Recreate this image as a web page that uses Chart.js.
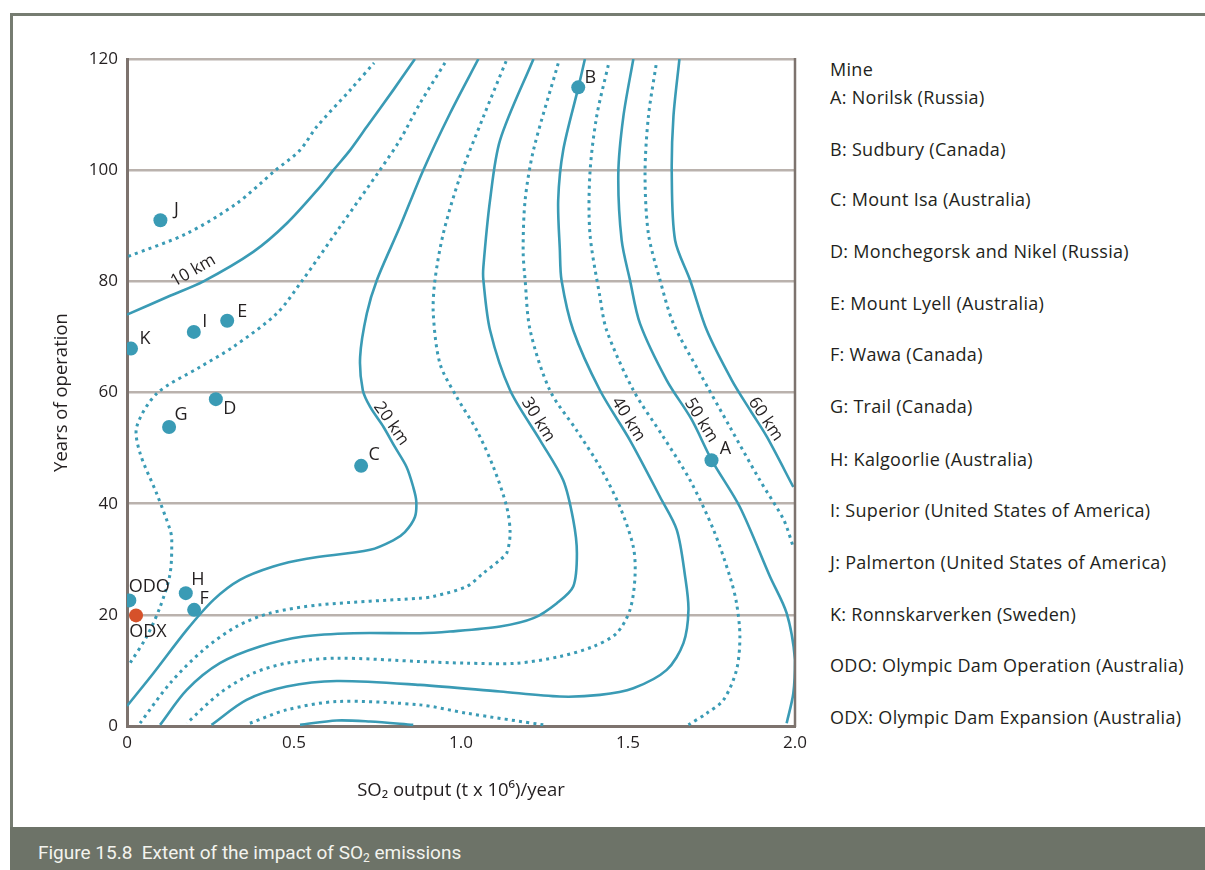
<!DOCTYPE html>
<html><head><meta charset="utf-8">
<script src="https://cdn.jsdelivr.net/npm/chart.js@4.4.1/dist/chart.umd.min.js"></script>
<style>
html,body{margin:0;padding:0;background:#fff;width:1205px;height:870px;overflow:hidden;font-family:"Open Sans","Noto Sans",sans-serif;color:#231f20;}
#frame{position:absolute;left:10px;top:13px;width:1200px;height:815px;border-left:3px solid #767c71;border-top:3px solid #767c71;box-sizing:border-box;}
#footer{position:absolute;left:10px;top:827px;width:1200px;height:43px;background:#6d7368;}
#caption{position:absolute;left:28px;top:15px;color:#f3f3ee;font-family:"Liberation Sans Narrow","Roboto","Open Sans",sans-serif;font-size:19px;white-space:nowrap;line-height:22px;}
#caption sub{font-size:12px;vertical-align:-3px;line-height:0;}
#wrap{position:absolute;left:14px;top:17px;width:800px;height:810px;}
.lg{position:absolute;left:830px;font-size:18px;letter-spacing:0.3px;line-height:20px;white-space:nowrap;}
</style></head>
<body>
<div id="frame"></div>
<div id="wrap"><canvas id="c"></canvas></div>
<div id="legend"></div>
<div id="footer"><div id="caption">Figure 15.8&nbsp; Extent of the impact of SO<sub>2</sub> emissions</div></div>
<script>
// ---- data ----
const xTicks = [0, 0.5, 1.0, 1.5, 2.0];
const yTicks = [0, 20, 40, 60, 80, 100, 120];

const mineLabels = ['A','B','C','D','E','F','G','H','I','J','K','ODO'];
const mineX = [1.75, 1.351, 0.701, 0.266, 0.300, 0.201, 0.126, 0.176, 0.200, 0.100, 0.012, 0.007];
const mineY = [47.8, 114.9, 46.8, 58.8, 72.9, 20.9, 53.8, 23.9, 70.9, 91.0, 67.9, 22.6];
const odxLabel = ['ODX'];
const odxX = [0.027];
const odxY = [19.9];

const legendTitle = 'Mine';
const legendItems = [
 'A: Norilsk (Russia)','B: Sudbury (Canada)','C: Mount Isa (Australia)',
 'D: Monchegorsk and Nikel (Russia)','E: Mount Lyell (Australia)','F: Wawa (Canada)',
 'G: Trail (Canada)','H: Kalgoorlie (Australia)','I: Superior (United States of America)',
 'J: Palmerton (United States of America)','K: Ronnskarverken (Sweden)',
 'ODO: Olympic Dam Operation (Australia)','ODX: Olympic Dam Expansion (Australia)'];

// contour lines [SO2 output, years]
const dotted5km = [[0.004,84.5],[0.179,88.6],[0.328,94],[0.443,99.9],[0.518,103.6],[0.568,107.8],[0.668,114.4],[0.740,119.3]];
const solid10km = [[0,74],[0.129,77.4],[0.229,80.0],[0.378,85.3],[0.478,90.4],[0.578,97],[0.618,100],[0.668,103.6],[0.718,107.8],[0.797,114.4],[0.862,120]];
const dotted15km = [[0.952,119.3],[0.877,112],[0.817,105.4],[0.757,100],[0.640,90],[0.523,80],[0.448,74.2],[0.318,68.2],[0.219,64.6],[0.089,59.8],[0.029,53.8],[0.039,49.1],[0.089,41.8],[0.129,35.3],[0.134,33.5],[0.129,27.4],[0.099,21.4],[0.059,16.1],[0.009,11.3]];
const solid20km = [[1.052,120],[0.967,110.2],[0.887,100],[0.817,89.8],[0.748,80.2],[0.718,74.2],[0.698,66.4],[0.706,60.4],[0.728,57.4],[0.768,53.8],[0.802,50.2],[0.837,46.6],[0.857,43],[0.866,40.5],[0.862,37.6],[0.832,34.9],[0.797,33.4],[0.728,31.7],[0.538,30.1],[0.438,28.7],[0.338,26.3],[0.259,22.7],[0.179,17.3],[0.079,9.5],[0,3.6]];
const dotted25km = [[1.135,119.6],[1.067,109.6],[0.997,98.8],[0.947,88.6],[0.922,80.2],[0.917,74.2],[0.937,65.2],[0.987,59.2],[1.047,53.2],[1.097,46.6],[1.137,39.4],[1.147,34.7],[1.137,31.1],[1.117,29.9],[1.067,27.5],[1.017,25.1],[0.917,23.3],[0.877,23],[0.578,21.8],[0.428,20.3],[0.328,17.9],[0.229,13.7],[0.129,7.7],[0.039,0.5]];
const solid30km = [[1.217,120],[1.117,105.4],[1.087,94.6],[1.067,82.6],[1.067,80.2],[1.087,71.2],[1.147,60.4],[1.237,51.4],[1.306,44.2],[1.336,37.1],[1.347,31.1],[1.336,25.1],[1.287,22.1],[1.217,19.4],[1.117,17.9],[0.967,17],[0.877,16.7],[0.678,16.7],[0.528,16.1],[0.398,14.3],[0.278,11.3],[0.179,6.5],[0.099,0.2]];
const dotted35km = [[1.291,119.2],[1.217,103.6],[1.192,94.6],[1.186,85.6],[1.192,80.2],[1.207,71.2],[1.266,60.4],[1.346,53.2],[1.416,46.6],[1.476,39.4],[1.516,32.2],[1.521,26.9],[1.506,20.9],[1.466,16.7],[1.396,14.3],[1.296,12.5],[1.167,11.3],[1.017,11.3],[0.877,11.6],[0.628,12.2],[0.478,11.3],[0.378,9.5],[0.278,5.9],[0.179,0.5]];
const solid40km = [[1.371,120],[1.351,114.8],[1.306,103.6],[1.291,94.6],[1.296,85.6],[1.301,80.2],[1.336,71.2],[1.416,60.4],[1.506,51.4],[1.596,41.2],[1.646,35.3],[1.671,26.9],[1.681,20.9],[1.666,14.9],[1.616,10.1],[1.516,6.8],[1.416,5.6],[1.296,5.3],[1.117,6.2],[0.877,7.4],[0.628,8.1],[0.478,7.1],[0.358,4.7],[0.253,0.2]];
const dotted45km = [[1.441,118.9],[1.406,109.6],[1.386,99.4],[1.386,88.6],[1.416,77.2],[1.436,71.2],[1.516,60.4],[1.606,52],[1.686,44.2],[1.756,35.3],[1.805,26.9],[1.825,22.1],[1.835,16.1],[1.825,10.1],[1.786,4.7],[1.736,2.3],[1.681,0.2]];
const dottedLow = [[0.368,0.5],[0.478,2.9],[0.628,4.4],[0.877,3.8],[1.017,2.3],[1.247,0.2]];
const solidLow = [[0.518,0.2],[0.628,1.0],[0.728,0.8],[0.857,0.2]];
const solid50km = [[1.516,120],[1.486,109.6],[1.471,99.4],[1.481,87.4],[1.506,80.2],[1.536,72.4],[1.616,62.2],[1.690,55.2],[1.751,47.8],[1.835,39.4],[1.925,26.9],[1.975,20.3],[2.0,11.9],[1.995,5.9],[1.975,0.5]];
const dotted55km = [[1.584,118.9],[1.561,109.6],[1.551,99.4],[1.561,88.6],[1.596,80.2],[1.636,72.4],[1.716,63.4],[1.805,53.8],[1.895,44.2],[1.966,37.1],[1.995,32.2]];
const solid60km = [[1.654,120],[1.636,109.6],[1.631,99.4],[1.641,87.4],[1.686,80.2],[1.736,71.2],[1.811,62.2],[1.866,56.8],[1.916,52],[1.995,43]];

const contourLabelText = ['10 km','20 km','30 km','40 km','50 km','60 km'];
const contourLabelX = [0.198, 0.791, 1.231, 1.501, 1.719, 1.912];
const contourLabelY = [81.9, 54.4, 55.1, 55.2, 55.0, 55.2];

// ---- styles ----
const TEAL = '#3a9bb5', RED = '#d6512a', TXT = '#231f20';
const FONT = '"Open Sans","Noto Sans",sans-serif';
const labelRot = [-30, 55, 58, 58, 58, 56];
const mineLabelOffset = [[14,-11],[12,-9],[13,-11],[14,10],[15,-9],[10,-11],[12,-12],[12,-13],[11,-10],[16,-10],[14,-10],[20,-14]];
const odxLabelOffset = [[12,16]];

// legend (HTML text)
const lg = document.getElementById('legend');
const lgCenters = [70,98,150,200,252,304,355,407,460,511,563,615,666,718];
[legendTitle, ...legendItems].forEach((t,i)=>{
  const d=document.createElement('div'); d.className='lg'; d.textContent=t;
  d.style.top=(lgCenters[i]-11)+'px'; lg.appendChild(d);
});

const toPts = arr => arr.map(p=>({x:p[0], y:p[1]}));
function line(data, dotted){
  return {type:'scatter', data: toPts(data), showLine:true, pointRadius:0, pointHoverRadius:0,
    borderColor:TEAL, borderWidth: dotted?3:2.6, borderDash: dotted?[3,4.2]:[], tension:0.3, fill:false};
}

const labelPlugin = {
  id:'labels',
  afterDatasetsDraw(chart){
    const {ctx, scales:{x,y}, chartArea:a} = chart;
    ctx.save();
    ctx.strokeStyle='#7d736e'; ctx.lineWidth=2.5;
    ctx.beginPath(); ctx.moveTo(a.right, a.top-1); ctx.lineTo(a.right, a.bottom+1); ctx.stroke();
    ctx.fillStyle=TXT; ctx.font='18px '+FONT; ctx.textAlign='center'; ctx.textBaseline='middle';
    mineLabels.forEach((t,i)=>{
      ctx.fillText(t, x.getPixelForValue(mineX[i])+mineLabelOffset[i][0], y.getPixelForValue(mineY[i])+mineLabelOffset[i][1]);
    });
    odxLabel.forEach((t,i)=>{
      ctx.fillText(t, x.getPixelForValue(odxX[i])+odxLabelOffset[i][0], y.getPixelForValue(odxY[i])+odxLabelOffset[i][1]);
    });
    ctx.font='17px '+FONT;
    contourLabelText.forEach((t,i)=>{
      ctx.save();
      ctx.translate(x.getPixelForValue(contourLabelX[i]), y.getPixelForValue(contourLabelY[i]));
      ctx.rotate(labelRot[i]*Math.PI/180);
      ctx.fillText(t,0,0);
      ctx.restore();
    });
    ctx.restore();
  }
};

new Chart(document.getElementById('c'), {
  type:'scatter',
  data:{datasets:[
    {data: odxX.map((v,i)=>({x:v,y:odxY[i]})), backgroundColor:RED, borderWidth:0, pointRadius:7, pointHoverRadius:7},
    {data: mineX.map((v,i)=>({x:v,y:mineY[i]})), backgroundColor:TEAL, borderWidth:0, pointRadius:7, pointHoverRadius:7},
    line(dotted5km,true), line(solid10km,false), line(dotted15km,true), line(solid20km,false),
    line(dotted25km,true), line(solid30km,false), line(dotted35km,true), line(solid40km,false),
    line(dotted45km,true), line(dottedLow,true), line(solidLow,false), line(solid50km,false),
    line(dotted55km,true), line(solid60km,false)
  ]},
  options:{
    responsive:true, maintainAspectRatio:false, animation:false,
    layout:{padding:{left:20, right:19, top:42, bottom:27}},
    plugins:{legend:{display:false}, tooltip:{enabled:false}},
    scales:{
      x:{type:'linear', min:0, max:2, afterBuildTicks:s=>{s.ticks=xTicks.map(v=>({value:v}));},
        afterFit:s=>{s.height=74;},
        grid:{display:false, drawTicks:false},
        border:{display:true, color:'#7d736e', width:3},
        ticks:{padding:7, color:TXT, font:{family:FONT,size:17}, maxRotation:0, autoSkip:false,
          callback:v=> v===0?'0':Number(v).toFixed(1)},
        title:{display:true, text:'SO₂ output (t x 10⁶)/year', color:TXT, font:{family:FONT,size:18.5}, padding:{top:0,bottom:-2}}
      },
      y:{type:'linear', min:0, max:120, afterBuildTicks:s=>{s.ticks=yTicks.map(v=>({value:v}));},
        afterFit:s=>{s.width=93;},
        grid:{color:'#bab2ad', lineWidth:2.5, drawTicks:false},
        border:{display:true, color:'#7d736e', width:3},
        ticks:{padding:9, color:TXT, font:{family:FONT,size:17}, autoSkip:false},
        title:{display:true, text:'Years of operation', color:TXT, font:{family:FONT,size:18.5}, padding:{top:17,bottom:0}}
      }
    }
  },
  plugins:[labelPlugin]
});
</script>
</body></html>
